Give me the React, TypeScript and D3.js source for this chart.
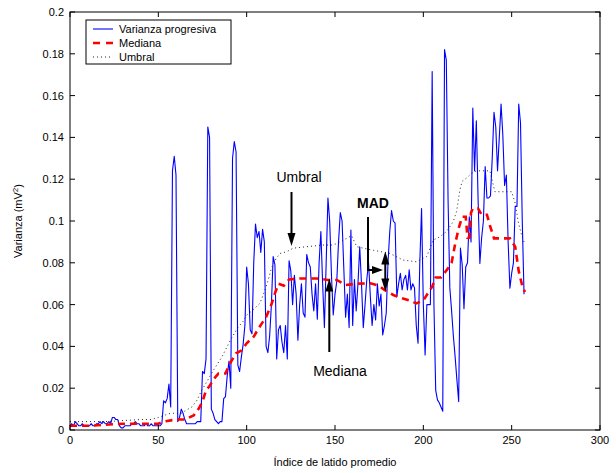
import React from "react";
import * as d3 from "d3";

const W = 616;
const H = 473;

// Varianza progresiva: value at each beat index 0..257
const varianza = [
  0.002, 0.003, 0.002, 0.004, 0.003, 0.002, 0.002, 0.003, 0.002, 0.002,
  0.002, 0.002, 0.003, 0.002, 0.002, 0.003, 0.003, 0.004, 0.003, 0.004,
  0.003, 0.003, 0.004, 0.003, 0.006, 0.006, 0.005, 0.005, 0.002, 0.001,
  0.001, 0.002, 0.002, 0.002, 0.002, 0.003, 0.003, 0.004, 0.003, 0.003,
  0.002, 0.002, 0.002, 0.003, 0.002, 0.002, 0.003, 0.002, 0.002, 0.002,
  0.002, 0.002, 0.003, 0.014, 0.013, 0.015, 0.022, 0.011, 0.124, 0.131,
  0.122, 0.004, 0.006, 0.010, 0.008, 0.005, 0.003, 0.003, 0.003, 0.003,
  0.003, 0.003, 0.004, 0.004, 0.004, 0.028, 0.027, 0.034, 0.145, 0.140,
  0.010, 0.008, 0.005, 0.004, 0.003, 0.004, 0.004, 0.015, 0.016, 0.026,
  0.033, 0.020, 0.130, 0.138, 0.133, 0.031, 0.028, 0.035, 0.041, 0.050,
  0.078, 0.070, 0.048, 0.046, 0.080, 0.0985, 0.092, 0.095, 0.085, 0.096,
  0.090, 0.040, 0.037, 0.045, 0.060, 0.083, 0.079, 0.034, 0.048, 0.050,
  0.042, 0.037, 0.050, 0.034, 0.081, 0.076, 0.060, 0.074, 0.065, 0.043,
  0.060, 0.070, 0.056, 0.054, 0.084, 0.080, 0.078, 0.065, 0.057, 0.070,
  0.053, 0.080, 0.095, 0.070, 0.049, 0.080, 0.111, 0.0997, 0.074, 0.055,
  0.065, 0.071, 0.090, 0.104, 0.100, 0.077, 0.054, 0.065, 0.049, 0.0957,
  0.050, 0.072, 0.057, 0.070, 0.0877, 0.070, 0.049, 0.060, 0.072, 0.080,
  0.064, 0.050, 0.060, 0.0526, 0.070, 0.0593, 0.065, 0.0455, 0.050, 0.056,
  0.080, 0.095, 0.105, 0.100, 0.099, 0.0638, 0.070, 0.075, 0.067, 0.072,
  0.074, 0.067, 0.0766, 0.067, 0.070, 0.068, 0.050, 0.0415, 0.080, 0.106,
  0.060, 0.0359, 0.060, 0.060, 0.060, 0.1715, 0.060, 0.019, 0.0144, 0.013,
  0.011, 0.009, 0.182, 0.177, 0.110, 0.068, 0.057, 0.045, 0.035, 0.024,
  0.0136, 0.087, 0.079, 0.058, 0.078, 0.080, 0.102, 0.090, 0.154, 0.124,
  0.148, 0.110, 0.0797, 0.092, 0.100, 0.126, 0.111, 0.111, 0.112, 0.130,
  0.152, 0.145, 0.124, 0.140, 0.156, 0.141, 0.117, 0.122, 0.090, 0.0678,
  0.075, 0.080, 0.107, 0.107, 0.156, 0.147, 0.100, 0.065,
];

// Mediana (breakpoints)
const medianaX = [0, 10, 20, 30, 40, 50, 53, 60, 65, 70, 73, 75, 77, 79, 81, 84, 88, 90, 94, 97, 100, 104, 107, 111, 114, 116, 118, 121, 124, 130, 140, 146, 151, 156, 162, 170, 175, 178, 183, 188, 192, 196, 200, 203, 205, 207, 210, 214, 216, 218, 220, 222, 224, 225, 226, 227, 228, 231, 233, 236, 238, 240, 249, 252, 254, 256, 257.5];
const medianaY = [0.002, 0.002, 0.0025, 0.003, 0.003, 0.003, 0.004, 0.005, 0.005, 0.007, 0.0104, 0.0136, 0.019, 0.021, 0.024, 0.027, 0.027, 0.031, 0.0367, 0.038, 0.0415, 0.0447, 0.049, 0.054, 0.06, 0.0654, 0.07, 0.069, 0.072, 0.0725, 0.0725, 0.0718, 0.0718, 0.0694, 0.07, 0.0702, 0.069, 0.067, 0.0646, 0.063, 0.062, 0.0606, 0.062, 0.066, 0.0686, 0.073, 0.073, 0.0774, 0.08, 0.089, 0.0965, 0.102, 0.102, 0.092, 0.092, 0.104, 0.106, 0.106, 0.103, 0.103, 0.097, 0.0917, 0.0917, 0.0877, 0.076, 0.069, 0.066];

// Umbral (breakpoints)
const umbralX = [0, 10, 20, 30, 40, 46, 50, 54, 57, 63, 66, 69, 72, 74.5, 77.4, 80, 83, 86, 89, 91.5, 95, 98, 100, 103, 107.5, 110.4, 112.2, 114, 116.6, 119, 122.6, 126.4, 134, 143, 149, 153, 156.6, 159.4, 162.3, 166, 171.7, 181, 188.6, 196, 201.9, 205.6, 209.4, 213.2, 216.9, 218.8, 220.7, 222, 224.5, 227.3, 230, 237.7, 240.5, 250, 252, 253.7, 255.6, 257];
const umbralY = [0.004, 0.004, 0.004, 0.0045, 0.005, 0.005, 0.006, 0.0072, 0.008, 0.008, 0.0096, 0.011, 0.0144, 0.019, 0.023, 0.027, 0.031, 0.035, 0.04, 0.044, 0.049, 0.052, 0.055, 0.057, 0.0606, 0.067, 0.0718, 0.0774, 0.082, 0.0845, 0.0853, 0.087, 0.0877, 0.0885, 0.0885, 0.09, 0.0917, 0.093, 0.0877, 0.087, 0.086, 0.0845, 0.0813, 0.0805, 0.083, 0.0909, 0.0925, 0.095, 0.0997, 0.1045, 0.115, 0.119, 0.1206, 0.1228, 0.124, 0.124, 0.114, 0.114, 0.1085, 0.0997, 0.0933, 0.09];

const xTicks = [0, 50, 100, 150, 200, 250, 300];
const yTicks = [0, 0.02, 0.04, 0.06, 0.08, 0.1, 0.12, 0.14, 0.16, 0.18, 0.2];
const legendLabels = ["Varianza progresiva", "Mediana", "Umbral"];

const FONT = "'Liberation Sans', Arial, Helvetica, sans-serif";

export default function App() {
  const x = d3.scaleLinear().domain([0, 300]).range([70, 600]);
  const y = d3.scaleLinear().domain([0, 0.2]).range([430, 12]);
  const line = d3
    .line<[number, number]>()
    .x((d) => x(d[0]))
    .y((d) => y(d[1]));

  const bluePts: [number, number][] = varianza.map((v, i) => [i, v]);
  const medPts: [number, number][] = medianaX.map((v, i) => [v, medianaY[i]]);
  const thrPts: [number, number][] = umbralX.map((v, i) => [v, umbralY[i]]);

  const fmtY = (v: number) => (v === 0 ? "0" : d3.format("~g")(+v.toFixed(2)));
  const x0 = x.range()[0], x1 = x.range()[1];
  const y0 = y.range()[0], y1 = y.range()[1];

  const arrowDown = (cx: number, tip: number) =>
    `M${cx - 4},${tip - 13} L${cx + 4},${tip - 13} L${cx},${tip} Z`;
  const arrowUp = (cx: number, tip: number) =>
    `M${cx - 4},${tip + 13} L${cx + 4},${tip + 13} L${cx},${tip} Z`;
  const arrowRight = (tip: number, cy: number) =>
    `M${tip - 11},${cy - 4} L${tip - 11},${cy + 4} L${tip},${cy} Z`;

  return (
    <svg
      width={W}
      height={H}
      style={{ position: "absolute", left: 0, top: 0, background: "#fff" }}
      fontFamily={FONT}
    >
      <rect x={0} y={0} width={W} height={H} fill="#fff" />
      {/* data */}
      <path d={line(thrPts) || ""} fill="none" stroke="#222" strokeWidth={1} strokeDasharray="1,3" />
      <path d={line(bluePts) || ""} fill="none" stroke="#0000ff" strokeWidth={1.1} strokeLinejoin="round" />
      <path d={line(medPts) || ""} fill="none" stroke="#ff0000" strokeWidth={2.6} strokeDasharray="7,5" />

      {/* frame */}
      <rect x={x0} y={y1} width={x1 - x0} height={y0 - y1} fill="none" stroke="#000" strokeWidth={1} />

      {/* x ticks */}
      {xTicks.map((t) => (
        <g key={"xt" + t}>
          <line x1={x(t)} x2={x(t)} y1={y0} y2={y0 - 5} stroke="#000" />
          <line x1={x(t)} x2={x(t)} y1={y1} y2={y1 + 5} stroke="#000" />
          <text x={x(t)} y={y0 + 14} fontSize={11} textAnchor="middle">
            {t}
          </text>
        </g>
      ))}
      {/* y ticks */}
      {yTicks.map((t) => (
        <g key={"yt" + t}>
          <line x1={x0} x2={x0 + 5} y1={y(t)} y2={y(t)} stroke="#000" />
          <line x1={x1} x2={x1 - 5} y1={y(t)} y2={y(t)} stroke="#000" />
          <text x={x0 - 6} y={y(t) + 4} fontSize={11} textAnchor="end">
            {fmtY(t)}
          </text>
        </g>
      ))}

      {/* axis labels */}
      <text x={(x0 + x1) / 2} y={466} fontSize={11} textAnchor="middle">
        Índice de latido promedio
      </text>
      <text transform={`translate(22, ${(y0 + y1) / 2}) rotate(-90)`} fontSize={11} textAnchor="middle">
        Varianza (mV<tspan dy={-4} fontSize={8}>2</tspan>
        <tspan dy={4}>)</tspan>
      </text>

      {/* legend */}
      <rect x={86} y={20} width={145} height={44} fill="#fff" stroke="#000" strokeWidth={1} />
      {legendLabels.map((lab, i) => {
        const ly = 29 + i * 14;
        return (
          <g key={lab}>
            {i === 0 && <line x1={93} x2={113} y1={ly} y2={ly} stroke="#0000ff" strokeWidth={1.1} />}
            {i === 1 && <line x1={93} x2={113} y1={ly} y2={ly} stroke="#ff0000" strokeWidth={2.6} strokeDasharray="7,6" />}
            {i === 2 && <line x1={93} x2={113} y1={ly} y2={ly} stroke="#222" strokeWidth={1} strokeDasharray="1,3" />}
            <text x={119} y={ly + 4} fontSize={11}>
              {lab}
            </text>
          </g>
        );
      })}

      {/* annotations */}
      <text x={299} y={182} fontSize={14} textAnchor="middle">
        Umbral
      </text>
      <line x1={291.5} x2={291.5} y1={192} y2={236} stroke="#000" strokeWidth={2} />
      <path d={arrowDown(291.5, 246)} fill="#000" />

      <text x={373} y={208} fontSize={14} fontWeight="bold" textAnchor="middle">
        MAD
      </text>
      <polyline points="368,217 368,270 373,270" fill="none" stroke="#000" strokeWidth={2} />
      <path d={arrowRight(383, 270)} fill="#000" />
      <line x1={385.3} x2={385.3} y1={262} y2={281} stroke="#000" strokeWidth={2} />
      <path d={arrowUp(385.3, 251.5)} fill="#000" />
      <path d={arrowDown(385.3, 291.5)} fill="#000" />

      <text x={340} y={376} fontSize={14} textAnchor="middle">
        Mediana
      </text>
      <line x1={329.3} x2={329.3} y1={352} y2={289} stroke="#000" strokeWidth={2} />
      <path d={arrowUp(329.3, 278.5)} fill="#000" />
    </svg>
  );
}
